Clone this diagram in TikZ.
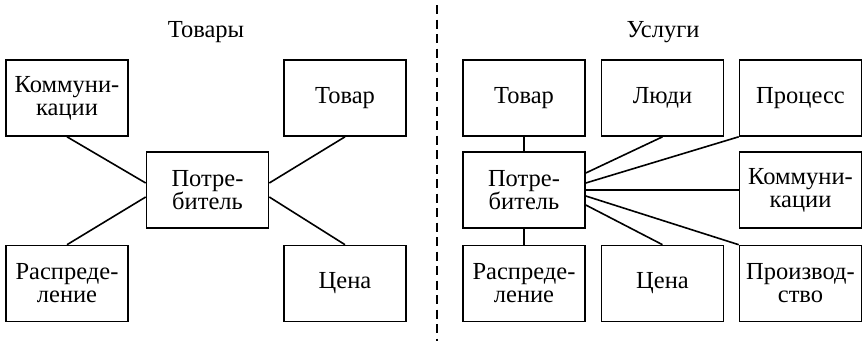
\documentclass[tikz,border=0pt]{standalone}
\usepackage{fontspec}
\setmainfont{Liberation Serif}
\begin{document}
\begin{tikzpicture}[x=1pt,y=-1pt,
  box/.style={draw,line width=1.6pt,minimum width=122pt,minimum height=76pt,inner sep=0pt,align=center,font=\fontsize{24.5}{23}\selectfont},
  title/.style={font=\fontsize{24.5}{21}\selectfont},
  link/.style={line width=1.6pt}]
\useasboundingbox (0,0) rectangle (862,341);
% titles
\node[title] (t1) at (206,32) {Товары};
\node[title] (t2) at (663,32) {Услуги};
% divider
\coordinate (d1) at (437,5);
\coordinate (d2) at (437,341);
\draw[line width=1.8pt,dash pattern=on 9pt off 5.5pt] (d1) -- (d2);
% left side
\node[box] (K) at (67,98) {Коммуни-\\кации};
\node[box] (Tv) at (345,98) {Товар};
\node[box] (P) at (207.5,190) {Потре-\\битель};
\node[box] (R) at (67,283.5) {Распреде-\\ление};
\node[box] (C) at (345,283.5) {Цена};
\draw[link] (K.south) -- ([yshift=7pt]P.west);
\draw[link] (R.north) -- ([yshift=-7pt]P.west);
\draw[link] (Tv.south) -- ([yshift=7pt]P.east);
\draw[link] (C.north) -- ([yshift=-7pt]P.east);
% right side
\node[box] (T2) at (524,98) {Товар};
\node[box] (L2) at (662.5,98) {Люди};
\node[box] (Pr2) at (800.5,98) {Процесс};
\node[box] (P2) at (524,190) {Потре-\\битель};
\node[box] (K2) at (800.5,190) {Коммуни-\\кации};
\node[box] (R2) at (524,283.5) {Распреде-\\ление};
\node[box] (C2) at (662.5,283.5) {Цена};
\node[box] (Pz2) at (800.5,283.5) {Производ-\\ство};
\draw[link] (T2.south) -- (P2.north);
\draw[link] (P2.south) -- (R2.north);
\draw[link] (L2.south) -- ([yshift=17pt]P2.east);
\draw[link] (Pr2.south west) -- ([yshift=7pt]P2.east);
\draw[link] (P2.east) -- (K2.west);
\draw[link] (Pz2.north west) -- ([yshift=-6pt]P2.east);
\draw[link] (C2.north) -- ([yshift=-15pt]P2.east);
\end{tikzpicture}
\end{document}
